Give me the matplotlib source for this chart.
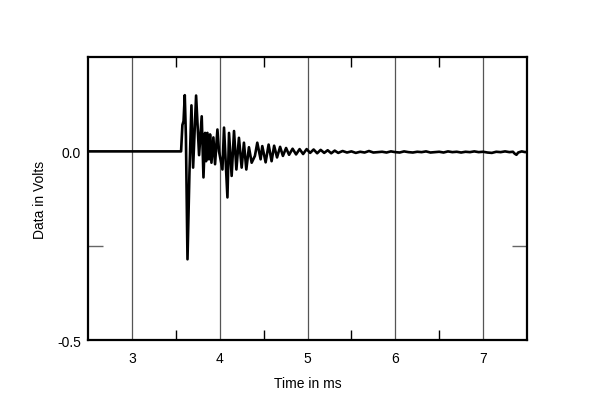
import numpy as np
import matplotlib
matplotlib.use("Agg")
import matplotlib.pyplot as plt

plt.rcParams['font.family'] = ['Liberation Sans', 'DejaVu Sans']

# impulse response (time in ms, volts)
t_ms = [2.50, 3.560, 3.575, 3.588, 3.602, 3.615, 3.633, 3.655, 3.678, 3.697,
        3.731, 3.765, 3.795, 3.815, 3.833, 3.845, 3.860, 3.878, 3.890, 3.906,
        3.928, 3.947, 3.974, 3.992, 4.031, 4.049, 4.088, 4.106, 4.136, 4.163,
        4.190, 4.219, 4.250, 4.276, 4.303, 4.333, 4.364, 4.401, 4.428, 4.466,
        4.485, 4.523, 4.557, 4.591, 4.620, 4.653, 4.688, 4.720, 4.756, 4.790,
        4.830, 4.870, 4.910, 4.950, 4.990, 5.030, 5.070, 5.110, 5.150, 5.190,
        5.230, 5.270, 5.310, 5.350, 5.400, 5.450, 5.500, 5.550, 5.600, 5.650,
        5.700, 5.750, 5.800, 5.850, 5.900, 5.950, 6.000, 6.050, 6.100, 6.150,
        6.200, 6.250, 6.300, 6.350, 6.400, 6.450, 6.500, 6.550, 6.600, 6.650,
        6.700, 6.750, 6.800, 6.850, 6.900, 6.950, 7.000, 7.050, 7.100, 7.150,
        7.200, 7.250, 7.300, 7.340, 7.360, 7.380, 7.400, 7.440, 7.480, 7.500]
volts = [0.000, 0.000, 0.070, 0.080, 0.149, 0.040, -0.286, -0.060, 0.122, -0.043,
         0.148, -0.010, 0.093, -0.069, 0.049, -0.026, 0.049, -0.021, 0.045, -0.030,
         0.037, -0.034, 0.058, 0.000, -0.048, 0.063, -0.122, 0.049, -0.065, 0.054,
         -0.048, 0.036, -0.043, 0.023, -0.048, 0.011, -0.030, -0.012, 0.023, -0.021,
         0.014, -0.029, 0.018, -0.026, 0.015, -0.016, 0.012, -0.012, 0.009, -0.009,
         0.007, -0.008, 0.006, -0.007, 0.006, -0.004, 0.005, -0.005, 0.004, -0.004,
         0.003, -0.005, 0.002, -0.004, 0.001, -0.003, 0.000, -0.004, -0.001, -0.003,
         0.001, -0.003, -0.002, -0.001, -0.003, 0.000, -0.002, -0.003, 0.000, -0.002,
         -0.003, -0.001, -0.002, 0.000, -0.003, -0.002, -0.001, -0.003, 0.000, -0.002,
         -0.001, -0.003, -0.001, -0.002, 0.000, -0.002, -0.001, -0.003, -0.004, -0.001,
         -0.002, 0.000, -0.002, -0.001, -0.006, -0.009, -0.003, 0.000, -0.002, -0.001]

fig = plt.figure(figsize=(6, 4.06), dpi=100)
ax = fig.add_axes([0.1467, 0.160, 0.7316, 0.697])

for x in [3, 4, 5, 6, 7]:
    ax.axvline(x, color='#555555', lw=0.9, zorder=1)

ax.plot(t_ms, volts, color='black', lw=1.9, zorder=3)

ax.set_xlim(2.5, 7.5)
ax.set_ylim(-0.5, 0.25)

ax.set_xticks([3, 4, 5, 6, 7])
ax.set_xticks([3.5, 4.5, 5.5, 6.5], minor=True)
ax.set_yticks([-0.5, 0.0])
ax.set_yticklabels(['-0.5', '0.0'])
ax.set_yticks([-0.25], minor=True)

ax.tick_params(axis='x', which='major', length=0, pad=8, labelsize=10)
ax.tick_params(axis='x', which='minor', direction='in', length=7, width=1,
               top=True, bottom=True, color='black')
ax.tick_params(axis='y', which='major', length=0, pad=5, labelsize=10)
ax.tick_params(axis='y', which='minor', direction='in', length=11, width=1,
               left=True, right=True, color='#666666')

for s in ax.spines.values():
    s.set_linewidth(1.6)

ax.set_xlabel('Time in ms', fontsize=10, labelpad=8)
ax.set_ylabel('Data in Volts', fontsize=10, labelpad=7)

fig.savefig('out.png', dpi=100)
